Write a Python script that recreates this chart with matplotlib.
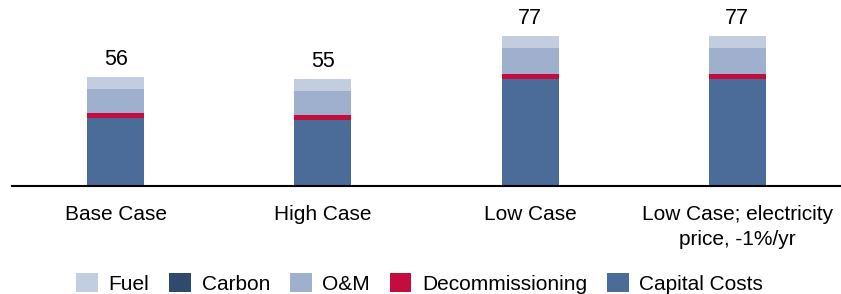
import matplotlib.pyplot as plt
import numpy as np

plt.rcParams['font.family'] = ['Liberation Sans', 'DejaVu Sans']

# data
cases = ['Base Case', 'High Case', 'Low Case', 'Low Case; electricity\nprice, -1%/yr']
capital = [35.0, 34.0, 55.0, 55.0]
decommissioning = [2.6, 2.6, 2.6, 2.6]
om = [12.3, 12.2, 13.3, 13.3]
carbon = [0.0, 0.0, 0.0, 0.0]
fuel = [6.1, 6.2, 6.1, 6.1]
totals = [56, 55, 77, 77]

colors = {
    'Capital Costs': '#4B6B99',
    'Decommissioning': '#C40D3C',
    'O&M': '#9EB0CE',
    'Carbon': '#2F4A6D',
    'Fuel': '#C2CDE0',
}

fig = plt.figure(figsize=(8.41, 2.94), dpi=100)
ax = fig.add_axes([12 / 841, 1 - 186 / 294, 1 - 12 / 841, 186 / 294])

x = np.arange(len(cases))
w = 0.275
bottom = np.zeros(len(cases))
handles = {}
for name, vals in [('Capital Costs', capital), ('Decommissioning', decommissioning),
                   ('O&M', om), ('Carbon', carbon), ('Fuel', fuel)]:
    handles[name] = ax.bar(x, vals, w, bottom=bottom, color=colors[name], label=name)
    bottom += np.array(vals)

for xi, top, t in zip(x, bottom, totals):
    ax.annotate(str(t), (xi, top), xytext=(0, 5), textcoords='offset points',
                ha='center', va='bottom', fontsize=15.5)

ax.set_xlim(-0.5, 3.5)
ax.set_ylim(0, 95.5)
ax.set_xticks(x)
ax.set_xticklabels(cases, fontsize=15, linespacing=1.35)
ax.tick_params(axis='x', length=0, pad=14)
ax.set_yticks([])
for s in ['top', 'right', 'left']:
    ax.spines[s].set_visible(False)
ax.spines['bottom'].set_linewidth(1.5)

order = ['Fuel', 'Carbon', 'O&M', 'Decommissioning', 'Capital Costs']
fig.legend([handles[k] for k in order], order, loc='center', bbox_to_anchor=(0.499, 0.035),
           ncol=5, frameon=False, fontsize=15, handlelength=1.05, handleheight=1.0,
           handletextpad=0.5, columnspacing=0.95, borderaxespad=0)

fig.savefig('out.png', dpi=100)
